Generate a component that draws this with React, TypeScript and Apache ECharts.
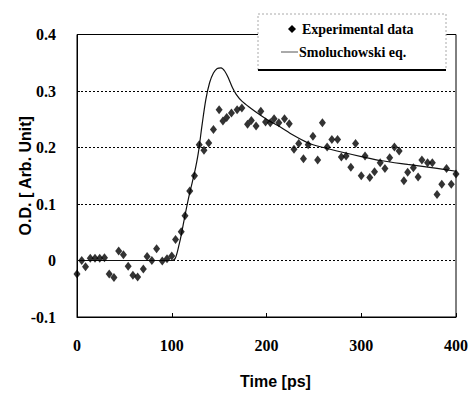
import React, { useEffect, useRef } from "react";
import * as echarts from "echarts";

// Experimental data: time (ps), O.D.
const expTime = [
  0, 5, 9, 14, 19, 24, 29, 34, 39, 44, 49, 54, 59, 64, 70, 74, 79, 84, 90, 95,
  100, 104, 110, 114, 119, 124, 129, 134, 139, 144, 150, 154, 158, 163, 169, 174,
  180, 184, 189, 194, 199, 204, 208, 213, 219, 224, 229, 234, 239, 244, 249, 254,
  259, 264, 269, 275, 279, 284, 289, 294, 300, 304, 309, 314, 320, 325, 330, 335,
  340, 345, 349, 355, 360, 364, 370, 375, 380, 385, 390, 395, 400,
];
const expOD = [
  -0.024, 0.0, -0.011, 0.004, 0.004, 0.004, 0.005, -0.024, -0.03, 0.017, 0.01,
  -0.01, -0.026, -0.029, -0.015, 0.007, 0.0, 0.021, -0.001, 0.003, 0.008, 0.037,
  0.051, 0.079, 0.123, 0.15, 0.205, 0.195, 0.208, 0.232, 0.267, 0.247, 0.253,
  0.261, 0.267, 0.27, 0.241, 0.248, 0.238, 0.264, 0.245, 0.244, 0.251, 0.244,
  0.251, 0.242, 0.197, 0.207, 0.18, 0.205, 0.22, 0.178, 0.244, 0.201, 0.214,
  0.214, 0.183, 0.185, 0.165, 0.207, 0.15, 0.185, 0.147, 0.157, 0.173, 0.163,
  0.182, 0.201, 0.194, 0.141, 0.156, 0.164, 0.148, 0.178, 0.173, 0.173, 0.117,
  0.135, 0.163, 0.135, 0.153,
];

// Smoluchowski equation fit
const fitTime = [
  0, 100, 104, 108, 110, 114, 119, 124, 128, 132, 136, 140, 144, 148, 152, 156,
  160, 164, 168, 174, 183, 193, 202, 213, 228, 244, 260, 279, 300, 320, 349, 380,
  400,
];
const fitOD = [
  0, 0, 0.005, 0.03, 0.045, 0.08, 0.12, 0.155, 0.19, 0.24, 0.285, 0.315, 0.332,
  0.34, 0.341, 0.335, 0.322, 0.306, 0.294, 0.282, 0.27, 0.258, 0.248, 0.238,
  0.222, 0.208, 0.2, 0.192, 0.184, 0.177, 0.17, 0.163, 0.158,
];

const legendLabels = ["Experimental data", "Smoluchowski eq."];
const xAxisTitle = "Time [ps]";
const yAxisTitle = "O.D. [ Arb. Unit]";

const serif = "'Liberation Serif', 'Times New Roman', serif";
const sans = "'Liberation Sans', Arial, sans-serif";

export default function App() {
  const ref = useRef<HTMLDivElement>(null);
  useEffect(() => {
    if (!ref.current) return;
    const chart = echarts.init(ref.current, null, { renderer: "svg" });
    chart.setOption({
      animation: false,
      backgroundColor: "#fff",
      grid: {
        left: 77,
        right: 12,
        top: 34.5,
        bottom: 76,
        show: true,
        borderColor: "#000",
        borderWidth: 1,
        backgroundColor: "transparent",
      },
      xAxis: {
        type: "value",
        min: 0,
        max: 400,
        interval: 100,
        name: xAxisTitle,
        nameLocation: "middle",
        nameGap: 56,
        nameMoveOverlap: false,
        nameTextStyle: {
          fontFamily: sans,
          fontWeight: "bold",
          fontSize: 16,
          color: "#000",
          padding: [0, 0, 0, 18],
        },
        axisLine: { show: true, onZero: false, lineStyle: { color: "#000", width: 1 } },
        axisTick: { show: true, inside: true, length: 4, lineStyle: { color: "#000" } },
        splitLine: { show: false },
        axisLabel: {
          margin: 20,
          fontFamily: serif,
          fontWeight: "bold",
          fontSize: 16,
          color: "#000",
        },
      },
      yAxis: {
        type: "value",
        min: -0.1,
        max: 0.4,
        interval: 0.1,
        name: yAxisTitle,
        nameLocation: "middle",
        nameGap: 44,
        nameMoveOverlap: false,
        nameTextStyle: {
          fontFamily: sans,
          fontWeight: "bold",
          fontSize: 16,
          color: "#000",
        },
        axisLine: { show: true, lineStyle: { color: "#000", width: 1 } },
        axisTick: { show: true, inside: true, length: 3, lineStyle: { color: "#000" } },
        splitLine: {
          show: true,
          lineStyle: { color: "#000", type: [2, 2], width: 1 },
        },
        axisLabel: {
          margin: 21,
          fontFamily: serif,
          fontWeight: "bold",
          fontSize: 16,
          color: "#000",
          formatter: (v: number) => {
            const r = Math.round(v * 10) / 10;
            return r === 0 ? "0" : r.toFixed(1);
          },
        },
      },
      series: [
        {
          name: legendLabels[1],
          type: "line",
          data: fitTime.map((t, i) => [t, fitOD[i]]),
          smooth: 0.3,
          symbol: "none",
          lineStyle: { color: "#111", width: 1.2 },
          z: 2,
        },
        {
          name: legendLabels[0],
          type: "scatter",
          data: expTime.map((t, i) => [t, expOD[i]]),
          symbol: "diamond",
          symbolSize: [7, 9],
          itemStyle: { color: "#000" },
          z: 3,
        },
      ],
      graphic: [
        {
          type: "rect",
          z: 100,
          shape: { x: 258, y: 14, width: 188, height: 56 },
          style: { fill: "#fff", stroke: "#aaa", lineWidth: 1, lineDash: [2, 2] },
        },
        {
          type: "line",
          z: 101,
          shape: { x1: 258, y1: 70, x2: 446, y2: 70 },
          style: { stroke: "#000", lineWidth: 2 },
        },
        {
          type: "polygon",
          z: 101,
          shape: { points: [[292, 25], [296, 29], [292, 33], [288, 29]] },
          style: { fill: "#000" },
        },
        {
          type: "text",
          z: 101,
          x: 302,
          y: 29,
          style: {
            text: legendLabels[0],
            fontFamily: serif,
            fontWeight: "bold",
            fontSize: 14,
            fill: "#000",
            verticalAlign: "middle",
          },
        },
        {
          type: "line",
          z: 101,
          shape: { x1: 281, y1: 52, x2: 298, y2: 52 },
          style: { stroke: "#555", lineWidth: 1 },
        },
        {
          type: "text",
          z: 101,
          x: 299,
          y: 52,
          style: {
            text: legendLabels[1],
            fontFamily: serif,
            fontWeight: "bold",
            fontSize: 14,
            fill: "#000",
            verticalAlign: "middle",
          },
        },
      ],
    });
    return () => chart.dispose();
  }, []);
  return <div ref={ref} style={{ width: 471, height: 394, position: "absolute", left: 0, top: 0 }} />;
}
